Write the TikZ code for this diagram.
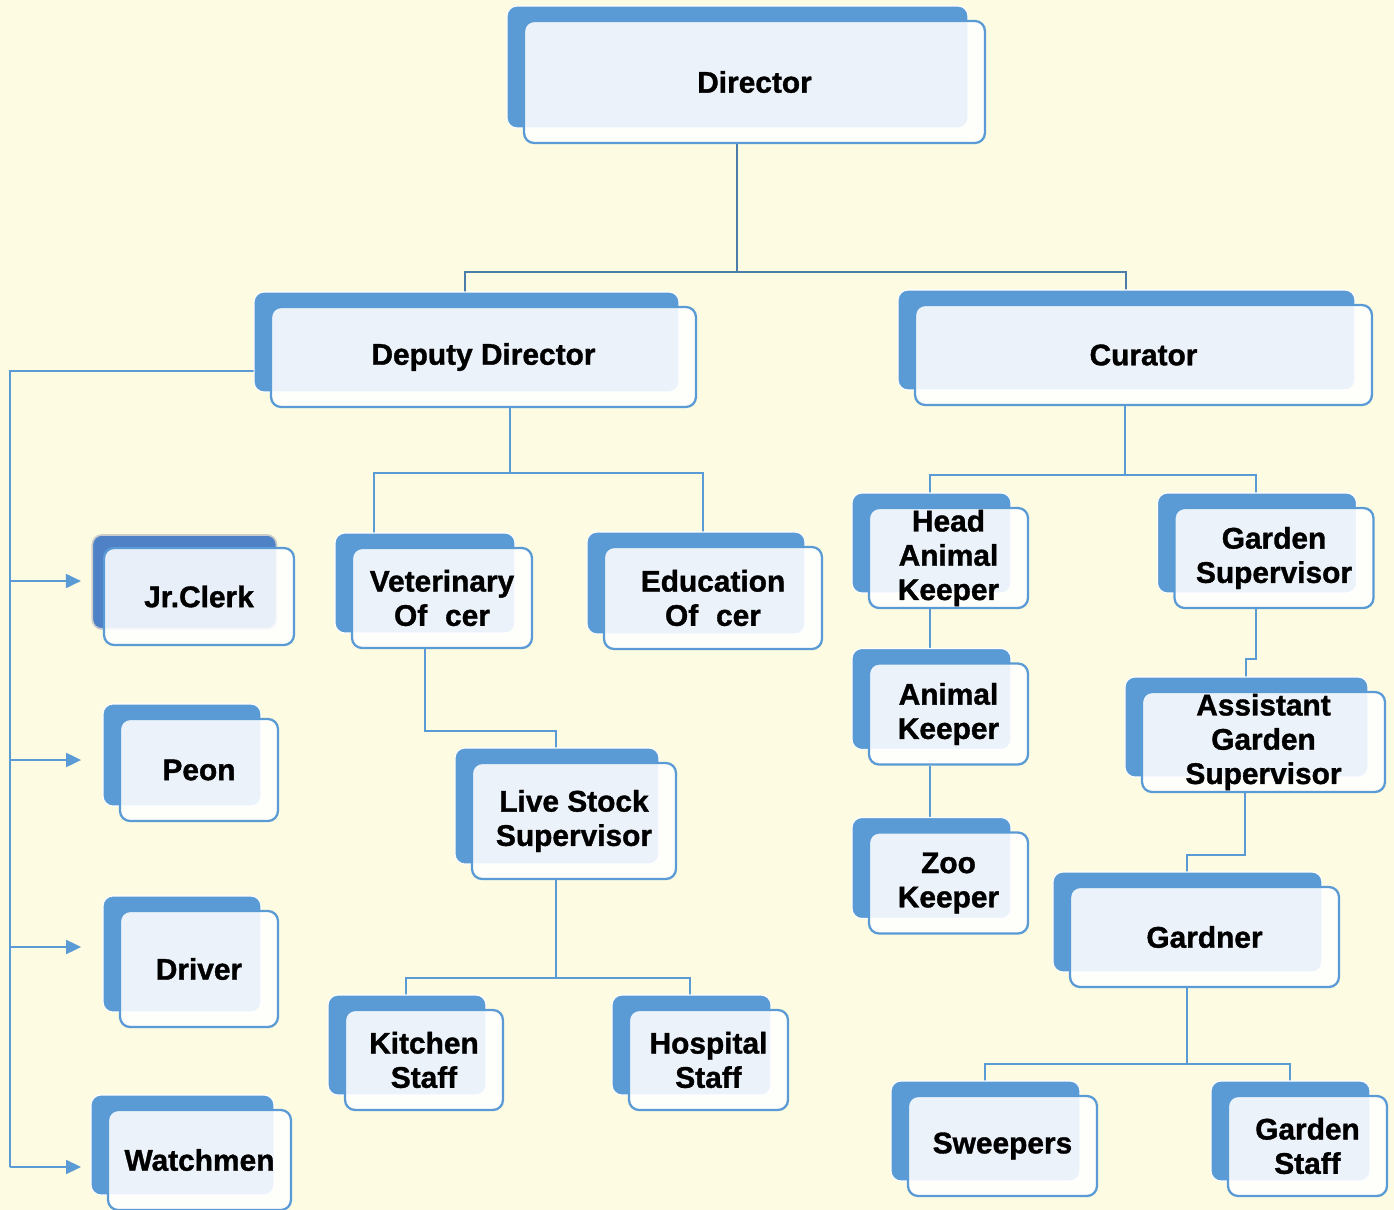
\documentclass[tikz,border=0pt]{standalone}
\usepackage{fontspec}
\setmainfont{Liberation Sans}[BoldFeatures={FakeBold=1.2}]
\usetikzlibrary{shadows,arrows.meta}
\definecolor{cream}{HTML}{FDFBE2}
\definecolor{boxblue}{HTML}{5B9BD5}
\definecolor{linkblue}{HTML}{5B9BD5}
\definecolor{topblue}{HTML}{4A7EA8}
\definecolor{clerkblue}{HTML}{4F81C6}
\pgfdeclarelayer{back}
\pgfsetlayers{back,main}
\tikzset{
  postbase/.style={draw=boxblue, line width=1.3pt, rounded corners=0.2cm, fill=white, fill opacity=0.88, text opacity=1,
    align=center, font=\fontsize{17}{19.5}\selectfont\bfseries, minimum height=2cm, inner sep=0pt},
  post/.style={postbase, copy shadow={shadow xshift=-0.34cm, shadow yshift=0.3cm, fill=boxblue, fill opacity=1, draw=white, line width=0.6pt}},
  clerkpost/.style={postbase, copy shadow={shadow xshift=-0.3cm, shadow yshift=0.3cm, shadow scale=0.97, fill=clerkblue, fill opacity=1, draw=gray!40, line width=1pt}},
  link/.style={draw=linkblue, line width=1.1pt},
  topline/.style={draw=topblue, line width=1.6pt},
  arr/.style={link, -{Triangle[length=0.3cm, width=0.28cm]}}
}
\begin{document}
\begin{tikzpicture}[x=0.02cm, y=-0.02cm]
    \useasboundingbox (0,0) rectangle (1394,1210);
    % top
    \node[post, minimum width=9.22cm, minimum height=2.44cm] (director) at (754.5,82) {Director};
    \node[post, minimum width=8.5cm] (deputy) at (483.5,357) {Deputy Director};
    \node[post, minimum width=9.14cm] (curator) at (1143.5,355) {Curator};
    % deputy side
    \node[clerkpost, minimum width=3.8cm, minimum height=1.94cm] (jrclerk) at (199,596.5) {Jr.Clerk};
    \node[post, minimum width=3.16cm, minimum height=2.04cm] (peon) at (199,770) {Peon};
    \node[post, minimum width=3.16cm, minimum height=2.32cm] (driver) at (199,969) {Driver};
    \node[post, minimum width=3.66cm] (watchmen) at (199.5,1160) {Watchmen};
    \node[post, minimum width=3.6cm] (vet) at (442,598) {Veterinary\\Of\hspace{0.6em}cer};
    \node[post, minimum width=4.36cm, minimum height=2.04cm] (edu) at (713,598) {Education\\Of\hspace{0.6em}cer};
    \node[post, minimum width=4.08cm, minimum height=2.32cm] (livestock) at (574,821) {Live Stock\\Supervisor};
    \node[post, minimum width=3.16cm] (kitchen) at (424,1060) {Kitchen\\Staff};
    \node[post, minimum width=3.18cm] (hospital) at (708.5,1060) {Hospital\\Staff};
    % curator side
    \node[post, minimum width=3.18cm] (headak) at (948.5,558) {Head\\Animal\\Keeper};
    \node[post, minimum width=3.18cm, minimum height=2.02cm] (ak) at (948.5,714) {Animal\\Keeper};
    \node[post, minimum width=3.18cm, minimum height=2.02cm] (zoo) at (948.5,883) {Zoo\\Keeper};
    \node[post, minimum width=3.98cm] (gardensup) at (1274,558) {Garden\\Supervisor};
    \node[post, minimum width=4.86cm] (agsup) at (1263.5,742) {Assistant\\Garden\\Supervisor};
    \node[post, minimum width=5.38cm] (gardner) at (1204.5,937) {Gardner};
    \node[post, minimum width=3.78cm] (sweepers) at (1002.5,1146) {Sweepers};
    \node[post, minimum width=3.18cm] (gstaff) at (1307.5,1146) {Garden\\Staff};

    \begin{pgfonlayer}{back}
        \fill[cream] (0,0) rectangle (1394,1210);
        \draw[topline] (director.south -| 737,0) -- (737,272) -| (deputy.north -| 465,0);
        \draw[topline] (737,272) -| (curator.north -| 1126,0);
        % deputy director
        \draw[link] (deputy.south -| 510,0) -- (510,473);
        \draw[link] (vet.north -| 374,0) |- (510,473) -| (edu.north -| 703,0);
        \draw[link] (vet.south -| 425,0) |- (556,731) -- (livestock.north -| 556,0);
        \draw[link] (livestock.south -| 556,0) -- (556,978);
        \draw[link] (kitchen.north -| 406,0) |- (556,978) -| (hospital.north -| 690,0);
        \coordinate (trunk) at (10,371);
        \draw[link] (deputy.west |- 0,371) -- (trunk) -- (10,1167);
        \foreach \n/\y/\s in {jrclerk/581/12.5pt, peon/760/21.5pt, driver/947/21.5pt, watchmen/1167/14.7pt}
            \draw[arr, shorten >=\s] (trunk |- 0,\y) -- (\n.west |- 0,\y);
        % curator
        \draw[link] (curator.south -| 1125,0) -- (1125,475);
        \draw[link] (headak.north -| 930,0) |- (1125,475) -| (gardensup.north -| 1256,0);
        \draw[link] (headak.south -| 930,0) -- (ak.north -| 930,0);
        \draw[link] (ak.south -| 930,0) -- (zoo.north -| 930,0);
        \draw[link] (gardensup.south -| 1256,0) |- (1246,659) -- (agsup.north -| 1246,0);
        \draw[link] (agsup.south -| 1245,0) |- (1187,855) -- (gardner.north -| 1187,0);
        \draw[link] (gardner.south -| 1187,0) -- (1187,1064);
        \draw[link] (sweepers.north -| 985,0) |- (1187,1064) -| (gstaff.north -| 1290,0);
    \end{pgfonlayer}
\end{tikzpicture}
\end{document}
